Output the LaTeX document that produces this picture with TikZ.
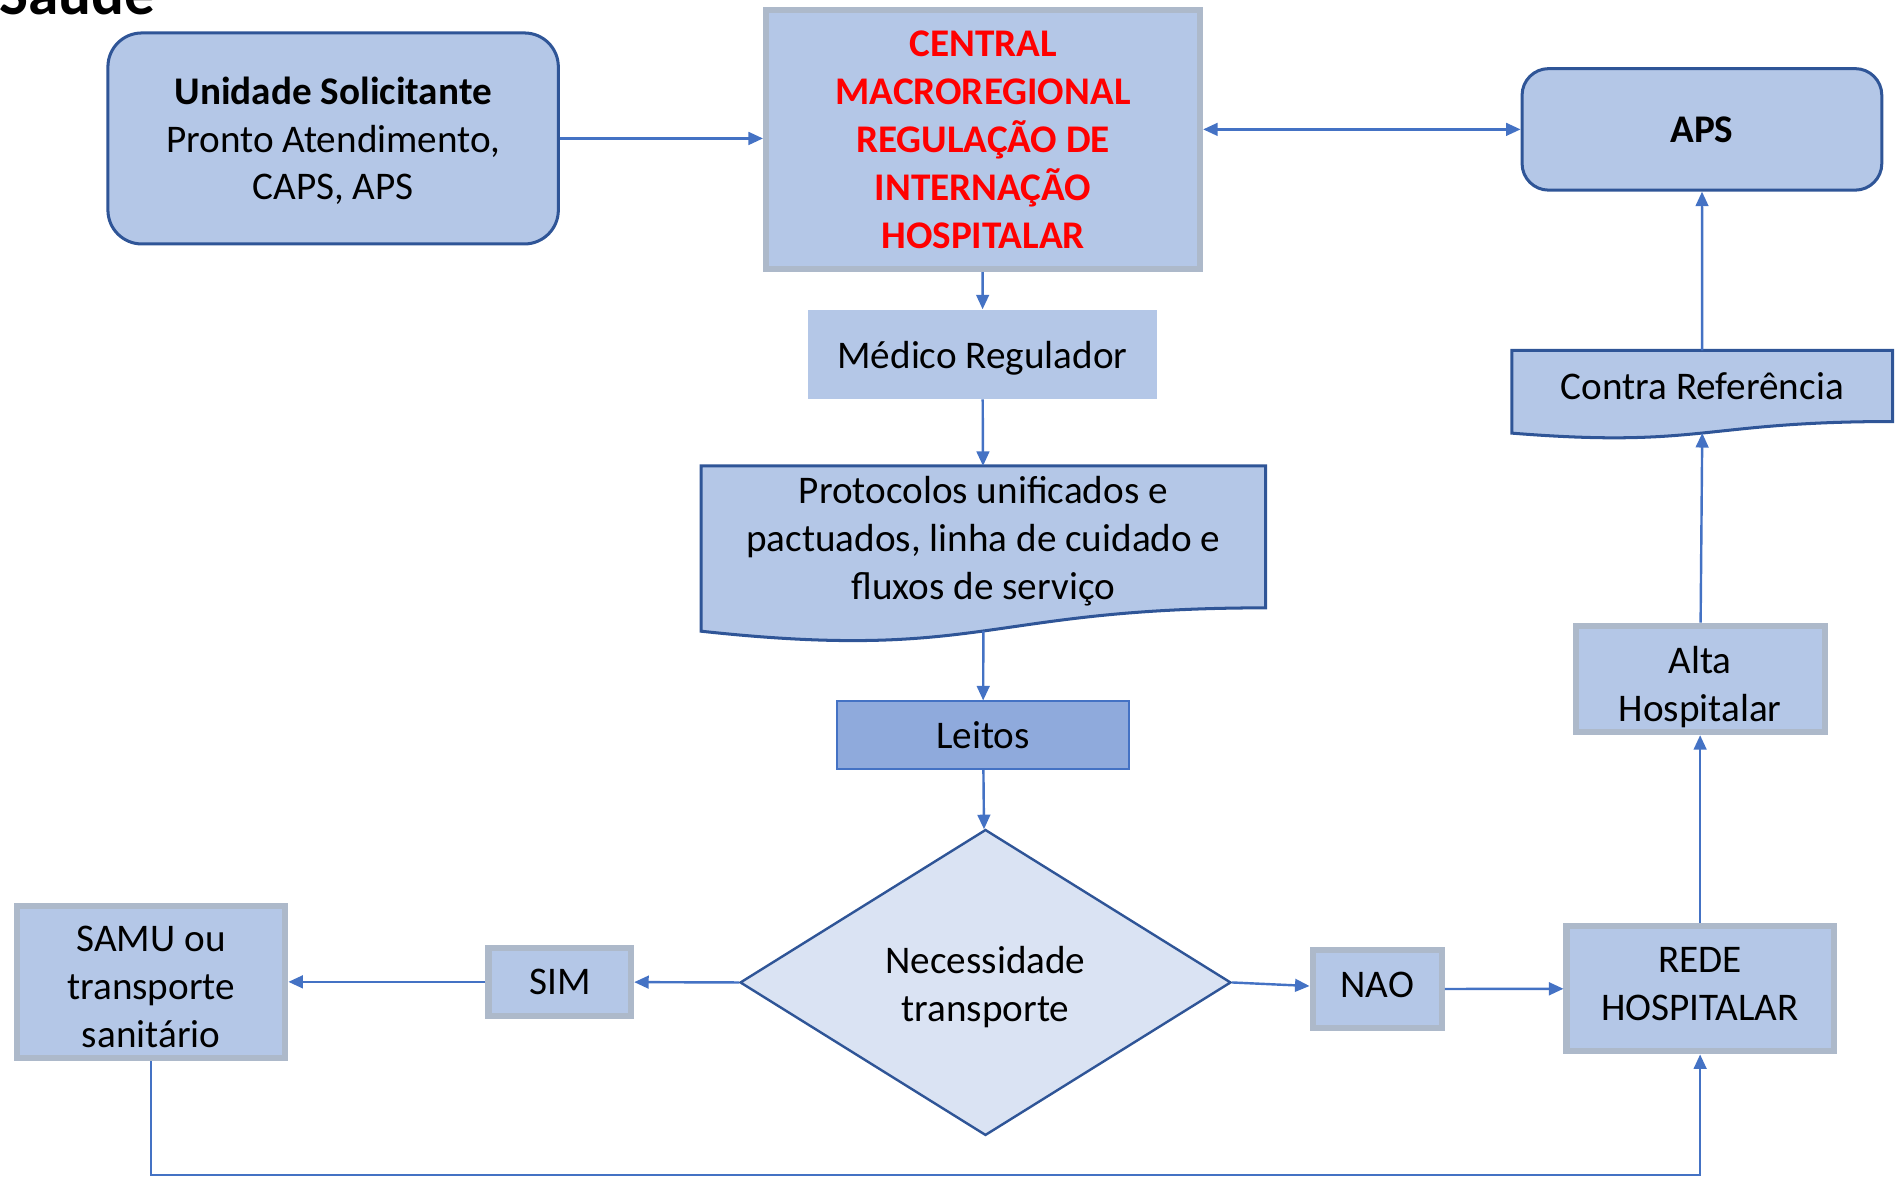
\documentclass[tikz,border=0pt]{standalone}
\usepackage{fontspec}
\setmainfont{Carlito}
\usetikzlibrary{arrows.meta,shapes.geometric,calc,backgrounds}
\definecolor{boxfill}{RGB}{180,199,231}
\definecolor{bedfill}{RGB}{143,170,220}
\definecolor{askfill}{RGB}{218,227,243}
\definecolor{darkline}{RGB}{47,85,151}
\definecolor{arrline}{RGB}{68,114,196}
\definecolor{grayline}{RGB}{173,185,202}
\begin{document}
\begin{tikzpicture}[x=1pt,y=-1pt,
    every node/.style={font=\fontsize{32.4}{39.6}\selectfont, align=center, inner sep=0pt},
    roundbox/.style={draw=darkline, line width=2.5pt, fill=boxfill, rounded corners=28pt},
    graybox/.style={draw=grayline, line width=5pt, fill=boxfill},
    docline/.style={draw=darkline, line width=2.5pt, fill=boxfill},
    boxtext/.style 2 args={label={[yshift=#1]center:{#2}}},
    arr/.style={draw=arrline, line width=2pt, -{Triangle[length=12pt,width=10.5pt]}},
    arrboth/.style={arr, {Triangle[length=12pt,width=10.5pt]}-{Triangle[length=12pt,width=10.5pt]}}]
    \useasboundingbox (0,0) rectangle (1568,977);
    %% title, cut by the page edge
    \node[anchor=base west, font=\fontsize{50.7}{60}\selectfont\bfseries] (title) at (-1,12) {Saúde};
    %% boxes
    \node[roundbox, minimum width=372.5pt, minimum height=174.5pt,
        boxtext={-2pt}{\textbf{Unidade Solicitante}\\Pronto Atendimento,\\CAPS, APS}] (unid) at (275.5,114.5) {};
    \node[graybox, minimum width=359pt, minimum height=214pt, text=red,
        font=\fontsize{32.4}{39.6}\selectfont\bfseries] (central) at (813,115.5)
        {CENTRAL\\MACROREGIONAL\\REGULAÇÃO DE\\INTERNAÇÃO\\HOSPITALAR};
    \node[roundbox, rounded corners=22pt, minimum width=297.5pt, minimum height=100.5pt,
        font=\fontsize{32.4}{39.6}\selectfont\bfseries] (aps) at (1407.5,107) {APS};
    \node[fill=boxfill, minimum width=289pt, minimum height=74pt,
        boxtext={-3pt}{Médico Regulador}] (medico) at (812.5,293) {};
    \node[minimum width=466.5pt, minimum height=117pt,
        boxtext={-3.5pt}{Protocolos unificados e\\pactuados, linha de cuidado e\\fluxos de serviço}] (prot) at (813.25,444) {};
    \node[fill=bedfill, draw=arrline, line width=1.5pt, minimum width=241pt, minimum height=56pt] (leitos) at (813,608) {Leitos};
    \node[diamond, fill=askfill, draw=darkline, line width=2pt, minimum width=406pt, minimum height=253pt,
        boxtext={-4pt}{Necessidade\\transporte}] (decis) at (815,812.5) {};
    \node[graybox, minimum width=118pt, minimum height=56pt] (sim) at (463,812) {SIM};
    \node[graybox, minimum width=222pt, minimum height=126pt,
        boxtext={-4.5pt}{SAMU ou\\transporte\\sanitário}] (samu) at (125,812) {};
    \node[graybox, minimum width=107pt, minimum height=64pt,
        boxtext={3.5pt}{NAO}] (nao) at (1139,818) {};
    \node[graybox, minimum width=221pt, minimum height=104pt,
        boxtext={3.5pt}{REDE\\HOSPITALAR}] (rede) at (1406,817.5) {};
    \node[graybox, minimum width=206pt, minimum height=88pt,
        boxtext={-6.5pt}{Alta\\Hospitalar}] (alta) at (1406,561.5) {};
    \node[minimum width=314.5pt, minimum height=58.4pt] (contra) at (1407.75,319.2) {Contra Referência};
    %% document outlines
    \begin{scope}[on background layer]
        \foreach \doc/\dip/\sag in {prot/44.6/19.3, contra/22.2/9.6}
            \draw[docline] (\doc.north west) -- (\doc.north east) -- (\doc.south east)
                .. controls (\doc.south) and ($(\doc.south)+(0,\dip)$) .. ($(\doc.south west)+(0,\sag)$) -- cycle;
    \end{scope}
    \coordinate (prot-out) at ($(prot.south)+(0,19.1)$);
    \coordinate (contra-in) at ($(contra.south)+(0,9.5)$);
    %% connectors
    \draw[arr] (unid.east) -- (unid.east -| central.west);
    \draw[arrboth] (aps.west -| central.east) -- (aps.west);
    \draw[arr] (central) -- (medico);
    \draw[arr] (medico) -- (prot);
    \draw[arr] (prot-out) -- (leitos);
    \draw[arr] (leitos) -- (decis);
    \draw[arr] (decis.west) -- (sim);
    \draw[arr] (sim) -- (samu);
    \draw[arr] (decis.east) -- (nao);
    \draw[arr] (nao) -- (rede);
    \draw[arr] (samu.south) -- ++(0,94) -| (rede.south);
    \draw[arr] (rede) -- (alta);
    \draw[arr] (alta) -- (contra-in);
    \draw[arr] (contra) -- (aps);
\end{tikzpicture}
\end{document}
